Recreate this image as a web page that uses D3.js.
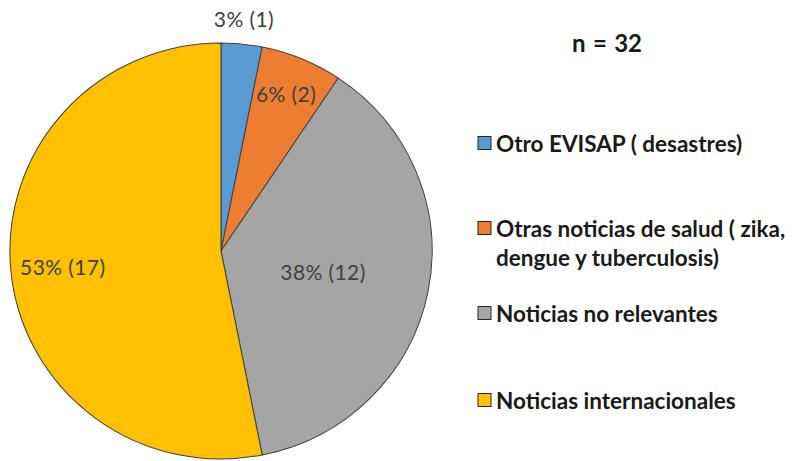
<!DOCTYPE html>
<html>
<head>
<meta charset="utf-8">
<script src="https://cdn.jsdelivr.net/npm/d3@7"></script>
<style>
  html, body { margin: 0; padding: 0; background: #fff; }
  svg { display: block; }
</style>
</head>
<body>
<svg id="chart" width="794" height="461"></svg>
<script>
const categories = [
  "Otro EVISAP ( desastres)",
  "Otras noticias de salud ( zika, dengue y tuberculosis)",
  "Noticias no relevantes",
  "Noticias internacionales"
];
const legendLines = [
  ["Otro EVISAP ( desastres)"],
  ["Otras noticias de salud ( zika,", "dengue y tuberculosis)"],
  ["Noticias no relevantes"],
  ["Noticias internacionales"]
];
const counts = [1, 2, 12, 17];
const percentLabels = ["3%", "6%", "38%", "53%"];
const colors = ["#5B9BD5", "#ED7D31", "#A5A5A5", "#FFC000"];
const totalLabel = "n = 32";

const svg = d3.select("#chart");
const cx = 221, cy = 251, r = 209;
const font = "Lato, 'Open Sans', sans-serif";

const pie = d3.pie().sort(null).value(d => d)(counts);
const arc = d3.arc().innerRadius(0).outerRadius(r);

const g = svg.append("g").attr("transform", `translate(${cx},${cy}) scale(1.01,0.995)`);
g.selectAll("path.slice")
  .data(pie)
  .join("path")
  .attr("class", "slice")
  .attr("d", arc)
  .attr("fill", (d, i) => colors[i])
  .attr("stroke", "#404040")
  .attr("stroke-width", 1);

// label radii per slice (Excel "best fit" placement)
const labelR = [234, 170, 104, 159];
const lg = svg.append("g").attr("transform", `translate(${cx},${cy})`);
lg.selectAll("text.lbl")
  .data(pie)
  .join("text")
  .attr("class", "lbl")
  .attr("transform", (d, i) => {
    const a = d3.arc().innerRadius(labelR[i]).outerRadius(labelR[i]);
    const [x, y] = a.centroid(d);
    return `translate(${x},${y})`;
  })
  .attr("text-anchor", "middle")
  .attr("dominant-baseline", "central")
  .attr("font-family", font)
  .attr("font-size", 21)
  .attr("letter-spacing", 0.4)
  .attr("fill", "#404040")
  .text((d, i) => `${percentLabels[i]} (${counts[i]})`);

// n = 32
svg.append("text")
  .attr("x", 607).attr("y", 42)
  .attr("text-anchor", "middle")
  .attr("dominant-baseline", "central")
  .attr("font-family", font)
  .attr("font-weight", "bold")
  .attr("font-size", 24)
  .attr("word-spacing", 1.5)
  .attr("fill", "#1a1a1a")
  .text(totalLabel);

// legend
const legendY = [143, 228, 313, 400];
const leg = svg.append("g");
const items = leg.selectAll("g.item")
  .data(categories)
  .join("g")
  .attr("class", "item")
  .attr("transform", (d, i) => `translate(478,${legendY[i]})`);
items.append("rect")
  .attr("x", 0).attr("y", -6.5)
  .attr("width", 13).attr("height", 13)
  .attr("fill", (d, i) => colors[i])
  .attr("stroke", "#262626")
  .attr("stroke-width", 1);
items.each(function(d, i) {
  const t = d3.select(this).append("text")
    .attr("font-family", font)
    .attr("font-weight", "bold")
    .attr("font-size", 22.5)
    .attr("fill", "#1a1a1a");
  legendLines[i].forEach((line, j) => {
    t.append("tspan")
      .attr("x", 18)
      .attr("y", j * 29)
      .attr("dominant-baseline", "central")
      .text(line);
  });
});
</script>
</body>
</html>
